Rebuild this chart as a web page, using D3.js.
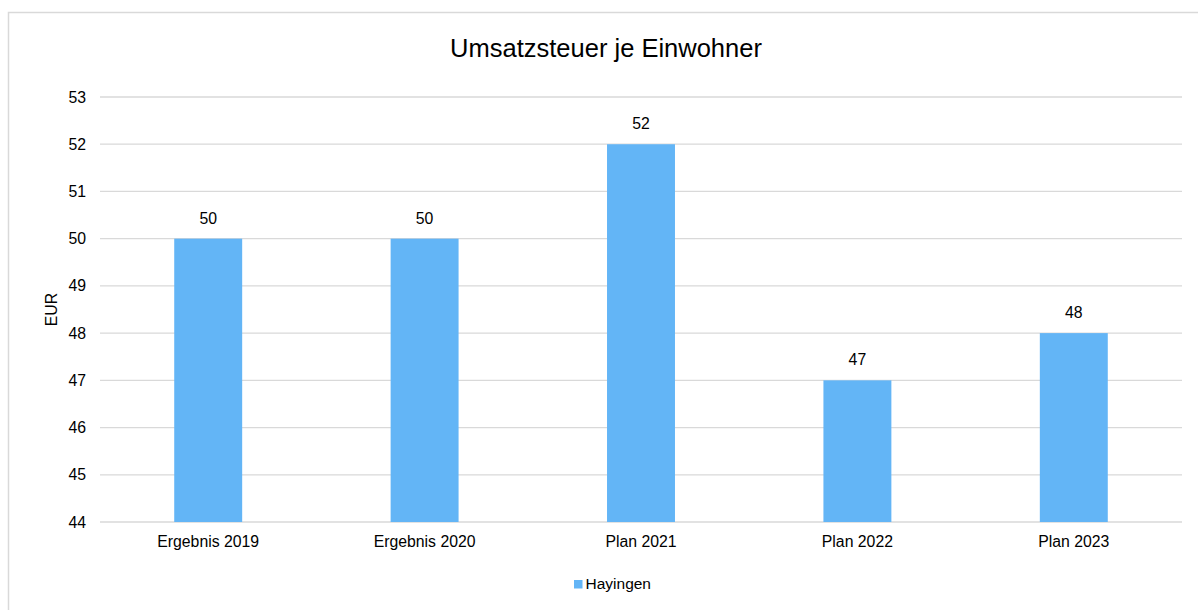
<!DOCTYPE html>
<html>
<head>
<meta charset="utf-8">
<script src="https://cdn.jsdelivr.net/npm/d3@7"></script>
<style>
  html, body { margin: 0; padding: 0; background: #fff; }
  svg { display: block; font-family: "Liberation Sans", Arial, sans-serif; }
</style>
</head>
<body>
<div id="chart"></div>
<script>
const width = 1198;
const height = 610;

const categories = ['Ergebnis 2019', 'Ergebnis 2020', 'Plan 2021', 'Plan 2022', 'Plan 2023'];
const values = [50, 50, 52, 47, 48];
const seriesName = 'Hayingen';
const yTicks = [44, 45, 46, 47, 48, 49, 50, 51, 52, 53];
const title = 'Umsatzsteuer je Einwohner';
const yLabel = 'EUR';

const barColor = '#63b5f6';
const gridColor = '#d9d9d9';
const fontSize = 15.8;

const margin = {top: 97, right: 16, bottom: 88, left: 100};

const svg = d3.create('svg')
  .attr('width', width)
  .attr('height', height);

// chart frame
svg.append('rect')
  .attr('x', 8.5)
  .attr('y', 12.5)
  .attr('width', 1200)
  .attr('height', 620)
  .attr('fill', 'none')
  .attr('stroke', gridColor)
  .attr('stroke-width', 1.5);

const x = d3.scaleBand()
  .domain(categories)
  .range([margin.left, width - margin.right])
  .paddingInner(0.686)
  .paddingOuter(0.343);

const y = d3.scaleLinear()
  .domain([44, 53])
  .range([height - margin.bottom, margin.top]);

// gridlines
svg.append('g')
  .selectAll('line')
  .data(yTicks)
  .join('line')
  .attr('x1', margin.left)
  .attr('x2', width - margin.right)
  .attr('y1', (d)=>y(d))
  .attr('y2', (d)=>y(d))
  .attr('stroke', gridColor)
  .attr('stroke-width', 1.3);

// y tick labels
svg.append('g')
  .selectAll('text')
  .data(yTicks)
  .join('text')
  .attr('x', 86)
  .attr('y', (d)=>y(d))
  .attr('dy', '0.35em')
  .attr('text-anchor', 'end')
  .attr('font-size', fontSize)
  .attr('fill', '#000')
  .text((d)=>d);

// bars
svg.append('g')
  .selectAll('rect')
  .data(values)
  .join('rect')
  .attr('x', (d, i)=>x(categories[i]))
  .attr('width', x.bandwidth())
  .attr('y', (d)=>y(d))
  .attr('height', (d)=>y(44) - y(d))
  .attr('fill', barColor);

// value labels
svg.append('g')
  .selectAll('text')
  .data(values)
  .join('text')
  .attr('x', (d, i)=>x(categories[i]) + x.bandwidth() / 2)
  .attr('y', (d)=>y(d) - 15)
  .attr('text-anchor', 'middle')
  .attr('font-size', fontSize)
  .attr('fill', '#000')
  .text((d)=>d);

// category labels
svg.append('g')
  .selectAll('text')
  .data(categories)
  .join('text')
  .attr('x', (d)=>x(d) + x.bandwidth() / 2)
  .attr('y', y(44) + 25)
  .attr('text-anchor', 'middle')
  .attr('font-size', fontSize)
  .attr('fill', '#000')
  .text((d)=>d);

// title
svg.append('text')
  .attr('x', 606)
  .attr('y', 57)
  .attr('text-anchor', 'middle')
  .attr('font-size', 25.5)
  .attr('fill', '#000')
  .text(title);

// y axis label
svg.append('text')
  .attr('transform', `translate(57,${(y(44) + y(53)) / 2}) rotate(-90)`)
  .attr('text-anchor', 'middle')
  .attr('font-size', fontSize)
  .attr('fill', '#000')
  .text(yLabel);

// legend
const legend = svg.append('g').attr('transform', 'translate(574,580)');
legend.append('rect')
  .attr('width', 8.5)
  .attr('height', 8.5)
  .attr('fill', barColor);
legend.append('text')
  .attr('x', 11.5)
  .attr('y', 9.3)
  .attr('font-size', 15.5)
  .attr('fill', '#000')
  .text(seriesName);

document.getElementById('chart').appendChild(svg.node());
</script>
</body>
</html>
